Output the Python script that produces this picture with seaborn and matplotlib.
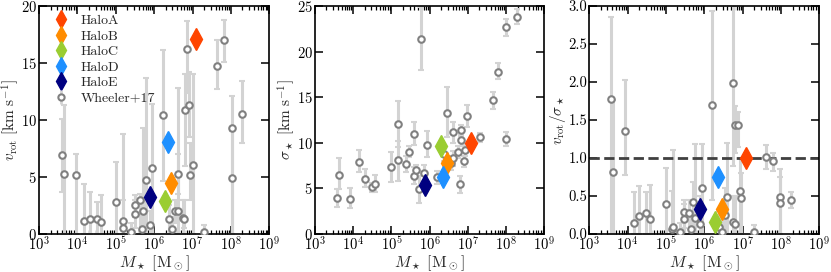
import numpy as np
import matplotlib
matplotlib.use('Agg')
import matplotlib.pyplot as plt
from matplotlib.ticker import LogLocator, NullFormatter
import seaborn as sns

# Simulated haloes (log10 stellar mass and values per panel)
halo_names = ['HaloA', 'HaloB', 'HaloC', 'HaloD', 'HaloE']
halo_colors = ['#FF4500', '#FF8C00', '#9ACD32', '#1E90FF', '#000080']
halo_logm = [7.08, 6.45, 6.29, 6.35, 5.88]
halo_vrot = [17.1, 4.5, 2.85, 8.1, 3.2]
halo_sigma = [9.95, 7.75, 9.65, 6.2, 5.4]
halo_ratio = [1.0, 0.33, 0.16, 0.75, 0.33]

# Wheeler+17 panel 1: v_rot
w1_logm = [3.61, 3.66, 3.95, 4.18, 4.33, 4.51, 4.61, 5.0, 5.18, 5.2, 5.4, 5.49, 5.49,
           5.62, 5.72, 5.68, 5.78, 5.9, 5.95, 6.23, 6.39, 6.46, 6.54, 6.63, 6.62, 6.74,
           6.79, 6.8, 6.85, 6.9, 6.93, 7.0, 7.31, 7.64, 7.82, 8.02, 8.02, 8.3]
w1_val = [6.9, 5.25, 5.15, 1.1, 1.3, 1.35, 1.05, 2.8, 0.55, 1.15, 0.2, 2.55, 1.75,
          3.0, 2.0, 0.45, 4.7, 0.8, 5.8, 10.4, 1.3, 0.45, 2.05, 2.0, 5.25, 1.4,
          1.3, 10.85, 16.2, 11.35, 5.15, 6.05, 0.2, 14.75, 17.0, 9.3, 4.95, 10.55]
w1_lo = [3.65, 0.0, 0.0, 0.0, 0.0, 0.0, 0.0, 0.0, 0.0, 0.0, 0.0, 1.5, 0.5,
         0.0, 0.0, 0.0, 0.0, 0.0, 0.0, 4.6, 0.0, 0.0, 1.0, 0.0, 3.5, 0.0,
         0.5, 6.0, 12.4, 8.5, 3.0, 0.0, 0.0, 12.7, 15.1, 0.0, 0.0, 8.0]
w1_hi = [10.1, 11.3, 7.0, 4.4, 3.7, 2.8, 3.4, 6.3, 3.0, 8.8, 1.0, 3.4, 3.0,
         3.5, 9.3, 2.0, 13.7, 2.0, 11.4, 16.1, 2.5, 1.5, 3.0, 12.8, 7.0, 3.0,
         3.0, 14.0, 18.7, 14.2, 8.0, 14.0, 0.8, 17.0, 18.8, 12.1, 9.0, 13.4]

# Wheeler+17 panel 2: sigma_star
w2_logm = [3.58, 3.62, 3.92, 4.16, 4.32, 4.48, 4.58, 5.0, 5.16, 5.18, 5.37, 5.47, 5.6,
           5.59, 5.65, 5.71, 5.77, 5.86, 5.93, 6.19, 6.37, 6.45, 6.55, 6.6, 6.61, 6.74,
           6.81, 6.83, 6.79, 6.9, 6.93, 6.99, 7.31, 7.65, 7.8, 8.01, 8.0, 8.28]
w2_val = [3.95, 6.45, 3.85, 7.9, 6.05, 5.1, 5.45, 7.35, 8.15, 12.05, 7.65, 9.0, 11.0,
          6.4, 7.05, 4.9, 21.35, 6.7, 9.7, 6.2, 8.8, 13.3, 7.8, 11.15, 8.3, 8.95,
          10.3, 11.35, 5.45, 7.95, 9.25, 12.95, 10.6, 14.7, 17.75, 22.65, 10.4, 23.75]
w2_lo = [3.0, 4.9, 2.8, 6.8, 5.1, 4.6, 4.6, 5.7, 5.8, 9.5, 6.8, 8.4, 9.7,
         5.5, 6.5, 3.4, 18.0, 5.8, 8.4, 5.5, 8.0, 10.6, 7.0, 10.0, 7.5, 8.3,
         9.6, 10.7, 4.5, 7.3, 8.6, 11.7, 10.1, 13.7, 17.0, 21.7, 9.6, 23.0]
w2_hi = [4.9, 8.35, 5.0, 9.15, 7.1, 5.6, 6.5, 9.0, 10.2, 14.6, 8.5, 9.6, 12.3,
         7.3, 7.6, 6.4, 24.9, 7.6, 11.3, 6.9, 9.6, 16.1, 8.6, 12.3, 9.1, 9.6,
         11.0, 12.0, 6.4, 8.6, 9.9, 14.1, 11.1, 15.6, 18.7, 23.6, 11.2, 24.7]

# Wheeler+17 panel 3: v_rot / sigma_star
w3_logm = [3.58, 3.63, 3.93, 4.16, 4.31, 4.48, 4.59, 4.99, 5.16, 5.19, 5.38, 5.47, 5.47,
           5.61, 5.7, 5.65, 5.75, 5.88, 5.93, 6.21, 6.39, 6.45, 6.54, 6.59, 6.74, 6.8,
           6.76, 6.8, 6.89, 6.92, 6.97, 7.3, 7.62, 7.78, 7.97, 7.97, 8.25]
w3_val = [1.78, 0.81, 1.35, 0.15, 0.24, 0.28, 0.2, 0.39, 0.07, 0.09, 0.03, 0.29, 0.2,
          0.28, 0.42, 0.07, 0.21, 0.13, 0.6, 1.7, 0.09, 0.03, 0.25, 0.48, 0.16, 0.13,
          1.99, 1.43, 1.43, 0.56, 0.47, 0.03, 1.01, 0.96, 0.48, 0.41, 0.45]
w3_lo = [0.0, 0.0, 0.78, 0.0, 0.0, 0.0, 0.0, 0.0, 0.0, 0.0, 0.0, 0.08, 0.0,
         0.0, 0.0, 0.0, 0.0, 0.0, 0.0, 0.45, 0.0, 0.0, 0.0, 0.0, 0.0, 0.0,
         0.9, 1.07, 1.15, 0.0, 0.0, 0.0, 0.85, 0.83, 0.0, 0.0, 0.34]
w3_hi = [2.86, 1.76, 2.02, 0.55, 0.63, 0.55, 0.65, 0.87, 0.57, 1.1, 0.15, 0.45, 0.4,
         0.45, 0.68, 0.3, 1.18, 0.5, 1.18, 2.93, 0.3, 0.2, 0.6, 1.2, 0.5, 0.5,
         3.0, 1.68, 1.6, 1.0, 0.8, 0.12, 1.17, 1.06, 0.86, 0.75, 0.55]

sns.set_style('ticks')
plt.rcParams['font.family'] = ['cmr10', 'DejaVu Serif']
plt.rcParams['mathtext.fontset'] = 'cm'
plt.rcParams['axes.formatter.use_mathtext'] = True
plt.rcParams['axes.linewidth'] = 1.2
plt.rcParams['xtick.direction'] = 'in'
plt.rcParams['ytick.direction'] = 'in'
plt.rcParams['xtick.top'] = True
plt.rcParams['ytick.right'] = True
plt.rcParams['xtick.major.size'] = 6
plt.rcParams['ytick.major.size'] = 6
plt.rcParams['xtick.minor.size'] = 3
plt.rcParams['xtick.major.width'] = 1.1
plt.rcParams['ytick.major.width'] = 1.1
plt.rcParams['xtick.minor.width'] = 0.9
plt.rcParams['xtick.color'] = 'black'
plt.rcParams['ytick.color'] = 'black'
plt.rcParams['axes.edgecolor'] = 'black'

fig = plt.figure(figsize=(8.31, 2.72), dpi=100)
ax1 = fig.add_axes([0.047, 0.14, 0.277, 0.838])
ax2 = fig.add_axes([0.379, 0.14, 0.276, 0.838])
ax3 = fig.add_axes([0.709, 0.14, 0.277, 0.838])

panels = [
    (ax1, w1_logm, w1_val, w1_lo, w1_hi, halo_vrot, (0, 20), [0, 5, 10, 15, 20],
     r'$v_{\rm rot}\ [{\rm km\ s^{-1}}]$'),
    (ax2, w2_logm, w2_val, w2_lo, w2_hi, halo_sigma, (0, 25), [0, 5, 10, 15, 20, 25],
     r'$\sigma_\star\ [{\rm km\ s^{-1}}]$'),
    (ax3, w3_logm, w3_val, w3_lo, w3_hi, halo_ratio, (0, 3), np.arange(0, 3.01, 0.5),
     r'$v_{\rm rot}/\sigma_\star$'),
]

for ax, lm, val, lo, hi, hv, ylim, yt, ylab in panels:
    m = 10 ** np.array(lm)
    v = np.array(val)
    yerr = [v - np.array(lo), np.array(hi) - v]
    ax.errorbar(m, v, yerr=yerr, fmt='none', ecolor='#d3d3d3', elinewidth=2.2,
                capsize=2, capthick=1.5, zorder=1)
    sns.scatterplot(x=m, y=v, ax=ax, marker='o', s=22, facecolor='white',
                    edgecolor='#808080', linewidth=1.5, zorder=3)
    for name, c, hm, hval in zip(halo_names, halo_colors, halo_logm, hv):
        ax.plot(10 ** hm, hval, marker='d', color=c, markersize=11,
                linestyle='none', zorder=4)
    ax.set_xscale('log')
    ax.set_xlim(1e3, 1e9)
    ax.set_ylim(*ylim)
    ax.set_yticks(yt)
    ax.set_xticks([10 ** k for k in range(3, 10)])
    ax.xaxis.set_minor_locator(LogLocator(base=10, subs=np.arange(2, 10), numticks=20))
    ax.xaxis.set_minor_formatter(NullFormatter())
    ax.tick_params(axis='x', which='minor', bottom=True, top=True, direction='in',
                   length=3, width=0.9)
    ax.set_xlabel(r'$M_\star\ [{\rm M_\odot}]$', fontsize=11.5, labelpad=0)
    ax.set_ylabel(ylab, fontsize=11, labelpad=0)
    ax.tick_params(axis='both', which='major', labelsize=10.5, pad=1.5)

ax3.axhline(1.0, color='#404040', linestyle='--', linewidth=2, zorder=2)
ax3.set_yticklabels(['%.1f' % t for t in np.arange(0, 3.01, 0.5)])

# legend
handles = []
for name, c in zip(halo_names, halo_colors):
    h, = ax1.plot([], [], marker='d', color=c, markersize=9, linestyle='none', label=name)
    handles.append(h)
wh = ax1.errorbar([], [], yerr=[], fmt='o', color='#808080', mfc='white', mec='#808080',
                  mew=1.5, ms=4.5, ecolor='#d3d3d3', elinewidth=2, capsize=2,
                  label='Wheeler+17')
handles.append(wh)
ax1.legend(handles=handles, loc='upper left', frameon=False, fontsize=10,
           handletextpad=0.4, labelspacing=0.2, borderaxespad=0.2, numpoints=1)

fig.savefig('out.png', dpi=100)
